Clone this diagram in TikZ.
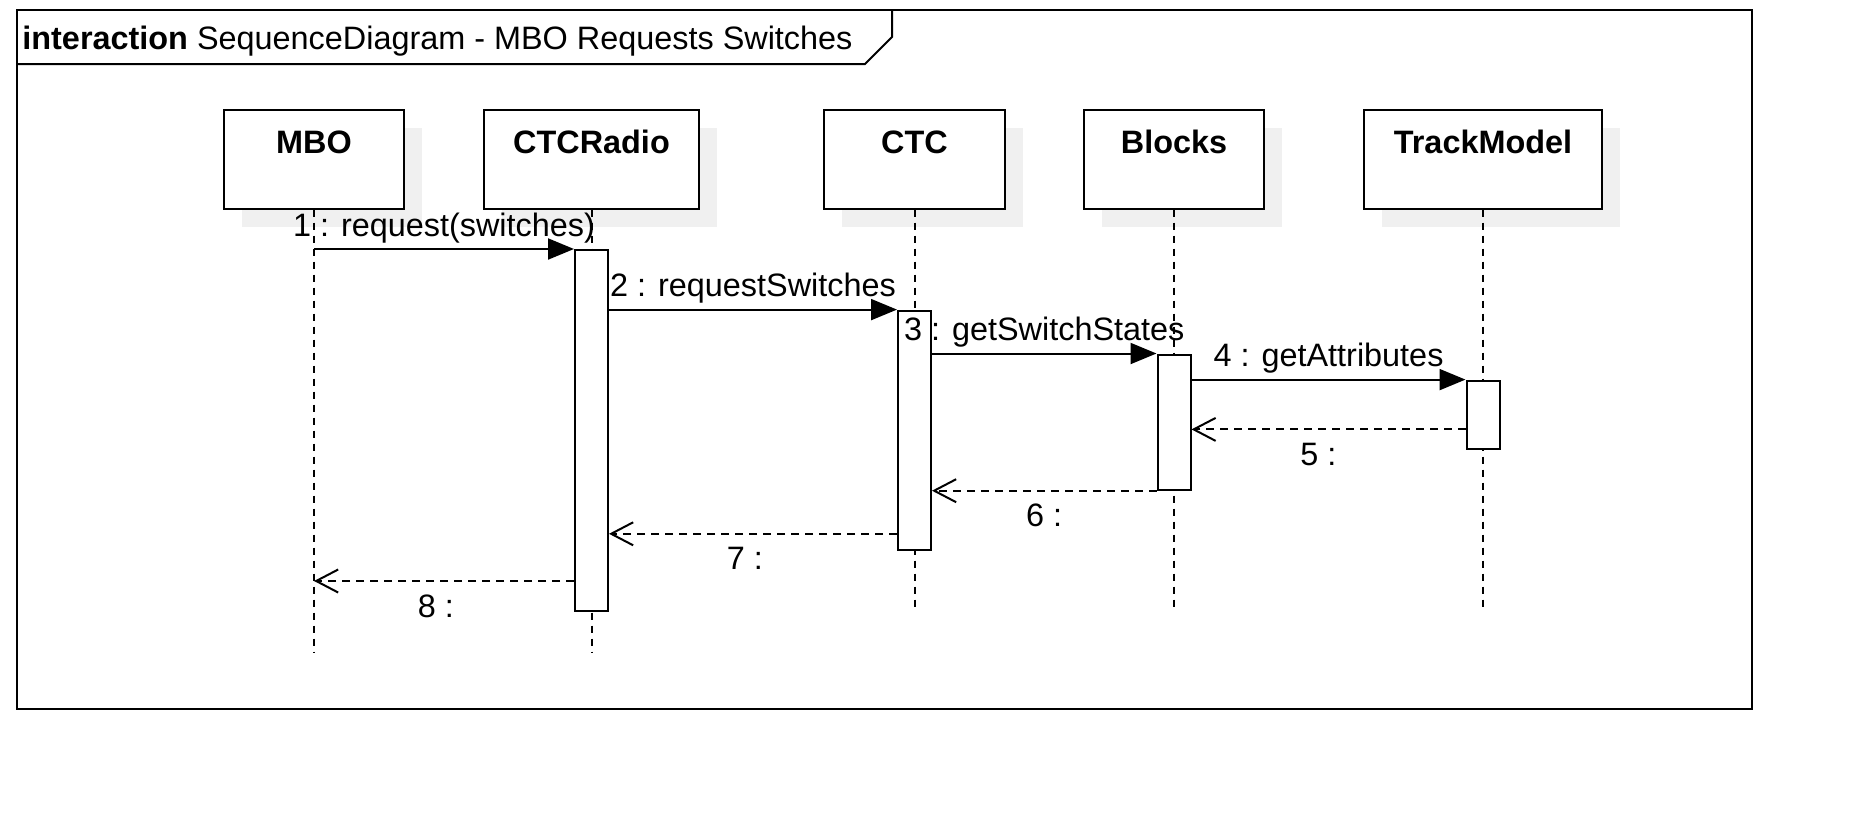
\documentclass[tikz,border=0pt]{standalone}
\usepackage{fontspec}
\setmainfont{Liberation Sans}
\usetikzlibrary{arrows.meta,positioning,shadows}
\definecolor{shadowgray}{HTML}{F0F0F0}
\newcommand\sdfont{\fontsize{16.2}{19.4}\selectfont}
\tikzset{
  headbox/.style  = {draw, fill=white, line width=1pt, inner sep=0pt, anchor=north,
                     font=\sdfont\bfseries, text height=21.8pt, text depth=27.5pt,
                     general shadow={fill=shadowgray, shadow xshift=9pt, shadow yshift=-9pt}},
  actbox/.style   = {draw, fill=white, line width=1pt, inner sep=0pt,
                     minimum width=16.5pt, anchor=north},
  lifeline/.style = {line width=1pt, dash pattern=on 3.5pt off 3pt},
  callmsg/.style  = {line width=1pt, -{Triangle[length=13pt,width=10.5pt]}},
  replymsg/.style = {line width=1pt, dash pattern=on 4pt off 3pt,
                     -{Straight Barb[length=11pt,width=11.5pt]}},
  calllab/.style  = {midway, anchor=base, yshift=6.5pt},
  replylab/.style = {midway, anchor=base, yshift=-18pt},
}

\begin{document}
\begin{tikzpicture}[x=0.5pt,y=-0.5pt,font=\sdfont]
\useasboundingbox (0,0) rectangle (1860,825);
% frame and its tab
\draw[line width=1pt] (16.6,9.5) rectangle (1752,709);
\draw[line width=1pt] (16.6,64) -- (865,64) -- (892,37) -- (892,9.5);
\node[anchor=base west,inner sep=0pt] (title) at (22,49)
  {\textbf{interaction} SequenceDiagram - MBO Requests Switches};
% lifeline heads
\foreach \nm/\x/\w/\lab in {mbo/314/90/MBO, radio/591.5/107.5/CTCRadio,
    ctc/914.5/90.5/CTC, blocks/1174/90/Blocks, track/1483/119/TrackModel}{
  \node[headbox, minimum width=\w pt] (\nm) at (\x,109) {\lab};}
\coordinate (lowA) at (0,652);
\coordinate (lowB) at (0,607);
\foreach \nm in {mbo,radio}{\draw[lifeline] (\nm.south) -- (\nm.south |- lowA);}
\foreach \nm in {ctc,blocks,track}{\draw[lifeline] (\nm.south) -- (\nm.south |- lowB);}
% activations
\node[actbox, minimum height=180.5pt] (radioact) at (radio |- 0,249) {};
\node[actbox, minimum height=119.7pt] (ctcact) at (ctc |- 0,309.6) {};
\node[actbox, minimum height=67.6pt] (blocksact) at (blocks |- 0,353.5) {};
\node[actbox, minimum height=34.4pt] (trackact) at (track |- 0,379.6) {};
% calls
\draw[callmsg] (mbo |- radioact.north west) -- node[calllab]{1 : request(switches)} (radioact.north west);
\draw[callmsg] (radioact.east |- ctcact.north west) -- node[calllab]{2 : requestSwitches} (ctcact.north west);
\draw[callmsg] (ctcact.east |- blocksact.north west) -- node[calllab]{3 : getSwitchStates} (blocksact.north west);
\draw[callmsg] (blocksact.east |- trackact.north west) -- node[calllab]{4 : getAttributes} (trackact.north west);
% replies
\coordinate (r5) at (0,429.4);
\coordinate (r7) at (0,533.8);
\coordinate (r8) at (0,581);
\draw[replymsg] (trackact.west |- r5) -- node[replylab,xshift=-5pt]{5 :} (blocksact.east |- r5);
\draw[replymsg] (blocksact.south west) -- node[replylab]{6 :} (ctcact.east |- blocksact.south west);
\draw[replymsg] (ctcact.west |- r7) -- node[replylab,xshift=-4pt]{7 :} (radioact.east |- r7);
\draw[replymsg] (radioact.west |- r8) -- node[replylab,xshift=-4pt]{8 :} (mbo |- r8);
\end{tikzpicture}
\end{document}
